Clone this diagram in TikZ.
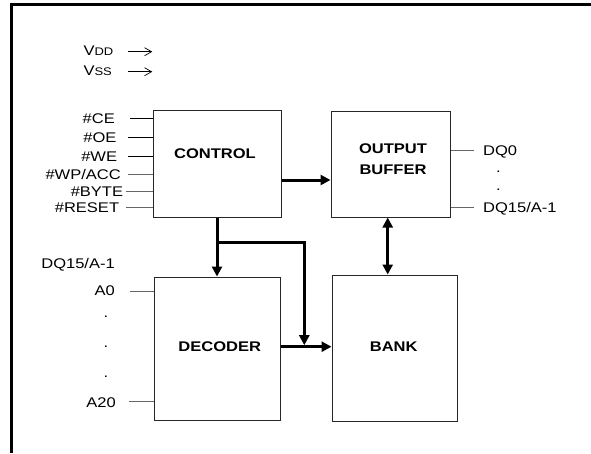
\documentclass[tikz,border=0pt]{standalone}
\usepackage{fontspec}
\setmainfont{Liberation Sans}[FakeStretch=1.18]
\usetikzlibrary{arrows.meta}
\begin{document}
\begin{tikzpicture}[x=1pt,y=-1pt,
  box/.style={draw=black!85, line width=1pt, inner sep=0pt},
  lbl/.style={inner sep=0pt, text height=10pt, text depth=0pt, font=\fontsize{14}{17}\selectfont},
  dotlbl/.style={inner sep=0pt, font=\fontsize{14}{17}\selectfont},
  blbl/.style={inner sep=0pt, font=\fontsize{14}{21}\selectfont\bfseries, align=center},
  pin/.style={line width=0.8pt, draw=black},
  gpin/.style={line width=0.8pt, draw=black!60},
  bus/.style={line width=3pt, -{Triangle[length=10pt,width=10pt]}},
  dbus/.style={line width=3pt, {Triangle[length=10pt,width=10pt]}-{Triangle[length=10pt,width=10pt]}},
  pwr/.style={line width=0.7pt, -{Straight Barb[length=7pt,width=8pt]}},
]
\useasboundingbox (0,0) rectangle (591,453);
% frame
\draw[line width=3pt] (11,453) -- (11,4.7) -- (591,4.7);

% boxes
\node[box, minimum width=128pt, minimum height=107pt] (control) at (217,163.5) {};
\node[box, minimum width=119pt, minimum height=106pt] (outbuf) at (390.5,164) {};
\node[box, minimum width=126pt, minimum height=143pt] (decoder) at (217,348.5) {};
\node[box, minimum width=125pt, minimum height=146pt] (bank) at (394.5,348) {};

\node[blbl] (controlt) at (215,154) {CONTROL};
\node[blbl] (outbuft) at (393,159.5) {OUTPUT\\BUFFER};
\node[blbl] (decodert) at (219.7,347) {DECODER};
\node[blbl] (bankt) at (393.7,347) {BANK};

% power
\node[lbl, anchor=west] (vdd) at (83.3,50.5) {V{\fontsize{11}{12}\selectfont DD}};
\node[lbl, anchor=west] (vss) at (83.3,70.3) {V{\fontsize{11}{12}\selectfont SS}};
\coordinate (vdda) at (128,51.7);
\coordinate (vddb) at (152.3,51.7);
\coordinate (vssa) at (128,71.7);
\coordinate (vssb) at (152.3,71.7);
\draw[pwr] (vdda) -- (vddb);
\draw[pwr] (vssa) -- (vssb);

% control inputs
\node[lbl, anchor=east] (ce) at (115,118) {\#CE};
\node[lbl, anchor=east] (oe) at (116.7,137.5) {\#OE};
\node[lbl, anchor=east] (we) at (117.3,156) {\#WE};
\node[lbl, anchor=east] (wp) at (121,174.5) {\#WP/ACC};
\node[lbl, anchor=east] (byte) at (123.3,191) {\#BYTE};
\node[lbl, anchor=east] (reset) at (119.3,207) {\#RESET};
\coordinate (cep) at (130,118);
\coordinate (oep) at (128,137.5);
\coordinate (wep) at (128,156);
\coordinate (wpp) at (127.5,174.5);
\coordinate (bytep) at (126,191);
\coordinate (resetp) at (126,207);
\draw[pin] (cep) -- (control.west |- cep);
\draw[pin] (oep) -- (control.west |- oep);
\draw[pin] (wep) -- (control.west |- wep);
\draw[gpin] (wpp) -- (control.west |- wpp);
\draw[gpin] (bytep) -- (control.west |- bytep);
\draw[gpin] (resetp) -- (control.west |- resetp);

% outputs
\node[lbl, anchor=west] (dq0) at (483,150) {DQ0};
\node[lbl, anchor=west] (dq15) at (483,207.3) {DQ15/A-1};
\coordinate (dq0p) at (474,150);
\coordinate (dq15p) at (474,207.3);
\draw[gpin] (outbuf.east |- dq0p) -- (dq0p);
\draw[gpin] (outbuf.east |- dq15p) -- (dq15p);
\node[dotlbl] (rd1) at (498.3,171.7) {.};
\node[dotlbl] (rd2) at (498.3,189.3) {.};

% address inputs
\node[lbl, anchor=east] (dq15l) at (115,263) {DQ15/A-1};
\node[lbl, anchor=east] (a0) at (115,290.5) {A0};
\node[lbl, anchor=east] (a20) at (116,402.5) {A20};
\coordinate (a0p) at (130,291.7);
\coordinate (a20p) at (129,401.7);
\draw[gpin] (a0p) -- (decoder.west |- a0p);
\draw[gpin] (a20p) -- (decoder.west |- a20p);
\node[dotlbl] (ld1) at (106,317) {.};
\node[dotlbl] (ld2) at (106,346.7) {.};
\node[dotlbl] (ld3) at (106,376.7) {.};

% buses
\coordinate (c2o) at (0,180);
\draw[bus] (control.east |- c2o) -- (outbuf.west |- c2o);
\draw[bus] (control.south) -- (decoder.north);
\coordinate (br) at (217,242.7);
\coordinate (brc) at (304.3,242.7);
\coordinate (jtop) at (304.3,345.2);
\draw[bus] (br) -- (brc) -- (jtop);
\coordinate (d2b) at (0,346.7);
\draw[bus] (decoder.east |- d2b) -- (bank.west |- d2b);
\coordinate (ob) at (387.7,0);
\draw[dbus] (outbuf.south -| ob) -- (bank.north -| ob);
\end{tikzpicture}
\end{document}
